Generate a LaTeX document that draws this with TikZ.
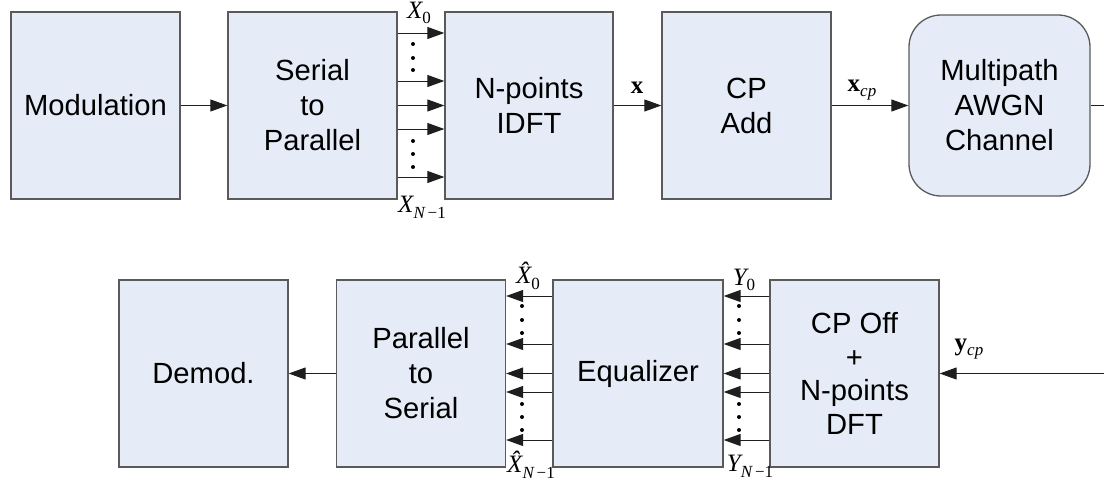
\documentclass[tikz,border=0pt]{standalone}
\usepackage{fontspec}
\setmainfont{Liberation Sans}
\newfontfamily\tms{Liberation Serif}
\usetikzlibrary{arrows.meta}
\definecolor{boxfill}{RGB}{230,236,247}
\definecolor{boxdraw}{RGB}{90,90,90}
\definecolor{arrline}{RGB}{30,30,30}
\newcommand{\lsub}[1]{\raisebox{-0.5ex}{\fontsize{8.5}{9}\selectfont #1}}
\begin{document}
\begin{tikzpicture}[x=0.5pt,y=-0.5pt,
  blk/.style={draw=boxdraw, fill=boxfill, line width=0.65pt, minimum width=84.5pt,
    minimum height=93.5pt, inner sep=0pt, align=center,
    font=\fontsize{14.6}{17.5}\selectfont},
  arr/.style={draw=arrline, -{Triangle[length=8.5pt,width=6pt]}, line width=0.5pt},
  plain/.style={draw=arrline, line width=0.5pt},
  lbl/.style={font=\tms\fontsize{12.5}{14}\selectfont, inner sep=0pt},
  dotc/.style={fill=black}]
\useasboundingbox (0,0) rectangle (1104,482);

% top row
\node[blk] (mod) at (95.5,105.5) {Modulation};
\node[blk] (s2p) at (312.5,105.5) {Serial\\to\\Parallel};
\node[blk, minimum width=84pt] (idft) at (529,105.5) {N-points\\IDFT};
\node[blk] (cpadd) at (746.5,105.5) {CP\\Add};
\node[blk, minimum width=90.5pt, minimum height=90.5pt, rounded corners=16pt] (chan) at (999.5,105.5) {Multipath\\AWGN\\Channel};

% bottom row
\node[blk] (demod) at (203.5,373.5) {Demod.};
\node[blk] (p2s) at (421,373.5) {Parallel\\to\\Serial};
\node[blk, minimum width=85pt] (eq) at (638,373.5) {Equalizer};
\node[blk, font=\fontsize{14.6}{16.8}\selectfont] (cpoff) at (854.5,373.5) {CP Off\\+\\N-points\\DFT};

% helper coordinates
\coordinate (t1) at (0,33);
\coordinate (t2) at (0,81);
\coordinate (t4) at (0,129);
\coordinate (t5) at (0,177);
\coordinate (b1) at (0,296);
\coordinate (b2) at (0,344);
\coordinate (b4) at (0,392);
\coordinate (b5) at (0,440);
\coordinate (outR) at (1104,105.5);
\coordinate (inR) at (1104,373.5);

% top connectors
\draw[arr] (mod.east) -- (s2p.west);
\foreach \c in {t1,t2,t4,t5} \draw[arr] (s2p.east |- \c) -- (idft.west |- \c);
\draw[arr] (s2p.east) -- (idft.west);
\draw[arr] (idft.east) -- (cpadd.west);
\draw[arr] (cpadd.east) -- (chan.west);
\draw[plain] (chan.east) -- (outR);

% bottom connectors
\draw[arr] (inR) -- (cpoff.east);
\foreach \c in {b1,b2,b4,b5} {
  \draw[arr] (cpoff.west |- \c) -- (eq.east |- \c);
  \draw[arr] (eq.west |- \c) -- (p2s.east |- \c);
}
\draw[arr] (cpoff.west) -- (eq.east);
\draw[arr] (eq.west) -- (p2s.east);
\draw[arr] (p2s.west) -- (demod.east);

% dots
\foreach \y in {44,58,70,141,154,167} \fill[dotc] (413,\y) circle (1pt);
\foreach \y in {306,320,333,404,417,430} {
  \fill[dotc] (522,\y) circle (1pt);
  \fill[dotc] (739,\y) circle (1pt);
}

% labels
\node[lbl] (lx0) at (419,13) {{\itshape X}\lsub{0}};
\node[lbl] (lxn) at (422,207) {{\itshape X}\lsub{{\itshape N}\,−1}};
\node[lbl] (lx) at (637,88) {\bfseries x};
\node[lbl] (lxcp) at (862,90) {{\bfseries x}\lsub{\itshape cp}};
\node[lbl] (lxh0) at (528,276) {{\itshape \^{X}}\lsub{0}};
\node[lbl] (lxhn) at (531,465) {{\itshape \^{X}}\lsub{{\itshape N}\,−1}};
\node[lbl] (ly0) at (744,280) {{\itshape Y}\lsub{0}};
\node[lbl] (lyn) at (750,466) {{\itshape Y}\lsub{{\itshape N}\,−1}};
\node[lbl] (lycp) at (969,349) {{\bfseries y}\lsub{\itshape cp}};
\end{tikzpicture}
\end{document}
